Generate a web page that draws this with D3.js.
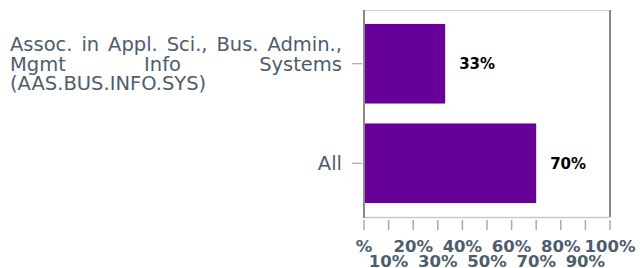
<!DOCTYPE html>
<html lang="en">
<head>
  <meta charset="UTF-8" />
  <title>Completion by program</title>
  <style>
    html, body {
      margin: 0;
      padding: 0;
      background: #fff;
    }

    svg {
      display: block;
      font-family: "DejaVu Sans", Verdana, sans-serif;
    }

    .cat-label {
      fill: #4e5d6c;
      font-size: 19.5px;
    }

    .x-label {
      fill: #4e5d6c;
      font-size: 16.5px;
      font-weight: bold;
    }

    .val-label {
      fill: #000;
      font-size: 15px;
      font-weight: bold;
    }
  </style>
</head>

<body>
  <svg width="640" height="268"></svg>

  <script src="https://d3js.org/d3.v7.min.js"></script>
  <script>
    const categories = [
      "Assoc. in Appl. Sci., Bus. Admin., Mgmt Info Systems (AAS.BUS.INFO.SYS)",
      "All"
    ];
    const values = [33, 70];
    const xTicks = [0, 10, 20, 30, 40, 50, 60, 70, 80, 90, 100];
    const xTickLabels = ["%", "10%", "20%", "30%", "40%", "50%", "60%", "70%", "80%", "90%", "100%"];

    const svg = d3.select("svg");
    const plot = { left: 364, right: 610, top: 10, bottom: 217 };
    const labelLeft = 10;
    const labelRight = 342;

    const x = d3.scaleLinear()
      .domain([0, 100])
      .range([plot.left, plot.right]);

    const y = d3.scaleBand()
      .domain(categories)
      .range([plot.top, plot.bottom])
      .paddingInner(0.2)
      .paddingOuter(0.14);

    // frame
    svg.append("line")
      .attr("x1", plot.left).attr("x2", plot.right)
      .attr("y1", plot.top + 0.5).attr("y2", plot.top + 0.5)
      .attr("stroke", "#d0d0d0");
    svg.append("line")
      .attr("x1", plot.left).attr("x2", plot.right)
      .attr("y1", plot.bottom + 0.5).attr("y2", plot.bottom + 0.5)
      .attr("stroke", "#c8c8c8")
      .attr("stroke-width", 1.5);
    svg.append("line")
      .attr("x1", plot.right).attr("x2", plot.right)
      .attr("y1", plot.top).attr("y2", plot.bottom)
      .attr("stroke", "#8a8a8a")
      .attr("stroke-width", 2);

    // bars
    svg.selectAll(".bar")
      .data(values)
      .enter()
      .append("rect")
      .attr("class", "bar")
      .attr("x", x(0))
      .attr("y", (d, i) => y(categories[i]))
      .attr("width", d => x(d) - x(0))
      .attr("height", y.bandwidth())
      .attr("fill", "#660099");

    svg.selectAll(".val-label")
      .data(values)
      .enter()
      .append("text")
      .attr("class", "val-label")
      .attr("x", d => x(d) + 14)
      .attr("y", (d, i) => y(categories[i]) + y.bandwidth() / 2)
      .attr("dy", "0.35em")
      .text(d => d + "%");

    // left axis line + ticks
    svg.append("line")
      .attr("x1", plot.left).attr("x2", plot.left)
      .attr("y1", plot.top).attr("y2", plot.bottom + 1)
      .attr("stroke", "#8a8a8a")
      .attr("stroke-width", 2);

    categories.forEach(c => {
      const cy = y(c) + y.bandwidth() / 2;
      svg.append("line")
        .attr("x1", plot.left - 12).attr("x2", plot.left - 2)
        .attr("y1", cy).attr("y2", cy)
        .attr("stroke", "#999");
    });

    // category labels, justified when they wrap
    const lineHeight = 19.5;

    function measure(str) {
      const t = svg.append("text").attr("class", "cat-label").text(str);
      const w = t.node().getComputedTextLength();
      t.remove();
      return w;
    }

    categories.forEach(c => {
      const cy = y(c) + y.bandwidth() / 2;
      const maxW = labelRight - labelLeft;
      const words = c.split(" ");
      const lines = [];
      let cur = [words[0]];
      for (let i = 1; i < words.length; i++) {
        const test = cur.concat(words[i]).join(" ");
        if (measure(test) > maxW) {
          lines.push(cur);
          cur = [words[i]];
        } else {
          cur.push(words[i]);
        }
      }
      lines.push(cur);

      const g = svg.append("text").attr("class", "cat-label");
      const y0 = cy - (lines.length - 1) * lineHeight / 2;

      if (lines.length === 1) {
        g.attr("x", labelRight)
          .attr("y", cy)
          .attr("dy", "0.35em")
          .attr("text-anchor", "end")
          .text(c);
        return;
      }

      lines.forEach((ln, li) => {
        const ly = y0 + li * lineHeight;
        const last = li === lines.length - 1;
        if (last || ln.length === 1) {
          g.append("tspan")
            .attr("x", labelLeft)
            .attr("y", ly)
            .attr("dy", "0.35em")
            .text(ln.join(" "));
          return;
        }
        const widths = ln.map(measure);
        const total = d3.sum(widths);
        const gap = (maxW - total) / (ln.length - 1);
        let cx = labelLeft;
        ln.forEach((w, wi) => {
          g.append("tspan")
            .attr("x", cx)
            .attr("y", ly)
            .attr("dy", "0.35em")
            .text(w);
          cx += widths[wi] + gap;
        });
      });
    });

    // bottom axis ticks and staggered labels
    const xAxis = svg.append("g");
    xAxis.selectAll(".x-tick")
      .data(xTicks)
      .enter()
      .append("line")
      .attr("class", "x-tick")
      .attr("x1", d => x(d)).attr("x2", d => x(d))
      .attr("y1", plot.bottom + 3).attr("y2", plot.bottom + 13)
      .attr("stroke", "#aaa")
      .attr("stroke-width", 1.5);

    xAxis.selectAll(".x-label")
      .data(xTicks)
      .enter()
      .append("text")
      .attr("class", "x-label")
      .attr("x", d => x(d))
      .attr("y", (d, i) => i % 2 === 0 ? 252 : 267)
      .attr("text-anchor", "middle")
      .text((d, i) => xTickLabels[i]);
  </script>
</body>
</html>
